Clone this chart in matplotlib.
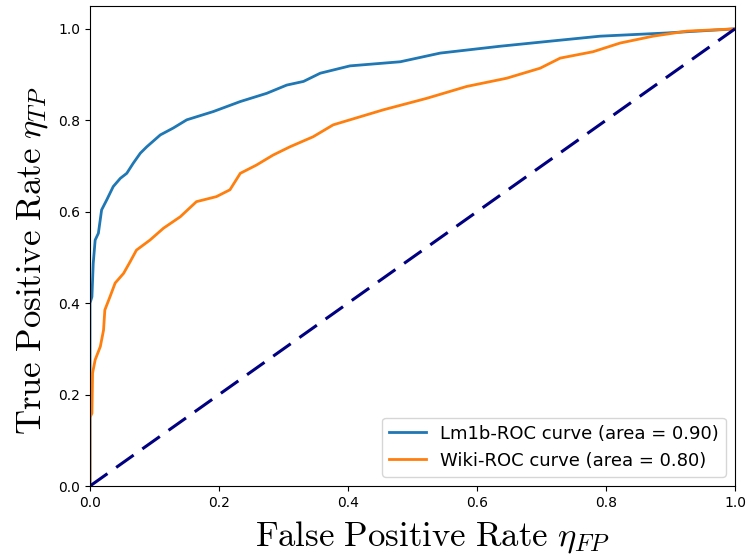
import matplotlib
matplotlib.use('Agg')
import matplotlib.pyplot as plt

# ROC points
lm1b_fpr = [0.0, 0.0, 0.003, 0.005, 0.008, 0.013, 0.018, 0.026, 0.036, 0.047, 0.057,
            0.067, 0.078, 0.088, 0.109, 0.129, 0.150, 0.191, 0.233, 0.274, 0.305,
            0.331, 0.357, 0.403, 0.481, 0.543, 0.636, 0.713, 0.791, 0.894, 1.0]
lm1b_tpr = [0.0, 0.40, 0.414, 0.487, 0.538, 0.553, 0.604, 0.626, 0.655, 0.673, 0.684,
            0.706, 0.728, 0.742, 0.768, 0.783, 0.801, 0.819, 0.841, 0.859, 0.877,
            0.885, 0.903, 0.919, 0.928, 0.947, 0.962, 0.973, 0.984, 0.991, 1.0]

wiki_fpr = [0.0, 0.0, 0.003, 0.004, 0.008, 0.016, 0.021, 0.023, 0.031, 0.039, 0.052,
            0.062, 0.072, 0.093, 0.114, 0.140, 0.165, 0.196, 0.217, 0.233, 0.258,
            0.284, 0.310, 0.346, 0.377, 0.455, 0.522, 0.584, 0.646, 0.698, 0.729,
            0.780, 0.822, 0.873, 0.925, 1.0]
wiki_tpr = [0.0, 0.15, 0.159, 0.247, 0.276, 0.305, 0.341, 0.385, 0.414, 0.444, 0.465,
            0.490, 0.516, 0.538, 0.564, 0.589, 0.622, 0.633, 0.648, 0.684, 0.702,
            0.724, 0.742, 0.764, 0.790, 0.823, 0.848, 0.874, 0.892, 0.914, 0.936,
            0.950, 0.969, 0.984, 0.995, 1.0]

lm1b_auc = 0.90
wiki_auc = 0.80

plt.rcParams['mathtext.fontset'] = 'cm'

fig = plt.figure(figsize=(7.5, 5.54), dpi=100)
ax = fig.add_axes([90 / 750, 68 / 554, 645 / 750, 480 / 554])

ax.plot(lm1b_fpr, lm1b_tpr, color='#1f77b4', lw=2,
        label='Lm1b-ROC curve (area = %0.2f)' % lm1b_auc)
ax.plot(wiki_fpr, wiki_tpr, color='#ff7f0e', lw=2,
        label='Wiki-ROC curve (area = %0.2f)' % wiki_auc)
ax.plot([0, 1], [0, 1], color='navy', lw=2.2, linestyle=(0, (7, 3.5)))

ax.set_xlim(0.0, 1.0)
ax.set_ylim(0.0, 1.05)
ax.set_xlabel(r'$\mathrm{False\ Positive\ Rate}\ \eta_{FP}$', fontsize=25, labelpad=7)
ax.set_ylabel(r'$\mathrm{True\ Positive\ Rate}\ \eta_{TP}$', fontsize=25, labelpad=6)
ax.xaxis.label.set_x(0.531)
ax.yaxis.label.set_y(0.469)
ax.legend(loc='lower right', fontsize=13)

fig.savefig('out.png', dpi=100)
